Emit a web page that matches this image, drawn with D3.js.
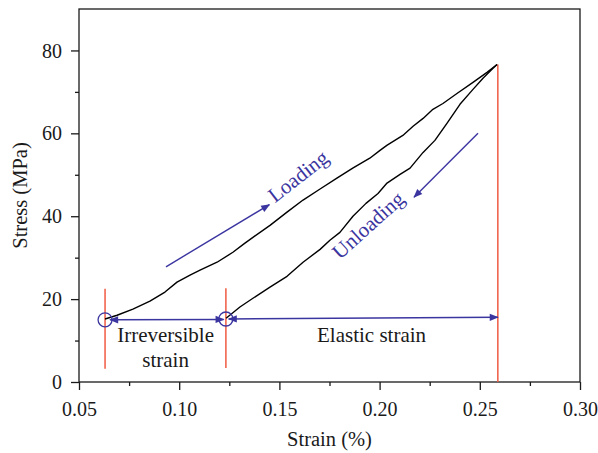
<!DOCTYPE html>
<html>
<head>
<meta charset="utf-8">
<script src="https://cdn.jsdelivr.net/npm/d3@7"></script>
<style>
  body { margin: 0; background: #fff; }
  svg { display: block; }
  text { font-family: "Liberation Serif", "Times New Roman", serif; }
</style>
</head>
<body>
<svg id="chart" width="598" height="453"></svg>
<script>
// Axis ticks
const strainTicks = [0.05, 0.10, 0.15, 0.20, 0.25, 0.30];
const strainMinorTicks = [0.075, 0.125, 0.175, 0.225, 0.275];
const stressTicks = [0, 20, 40, 60, 80];
const stressMinorTicks = [10, 30, 50, 70];

// Loading branch (strain %, stress MPa)
const loadingStrain = [0.0630, 0.0690, 0.0769, 0.0854, 0.0929, 0.0989, 0.1054, 0.1104, 0.1189, 0.1268,
  0.1328, 0.1368, 0.1453, 0.1538, 0.1618, 0.1701, 0.1787, 0.1866, 0.1951, 0.2002,
  0.2036, 0.2116, 0.2167, 0.2217, 0.2266, 0.2316, 0.2386, 0.2466, 0.2536, 0.2586];
const loadingStress = [15.2, 16.1, 17.6, 19.5, 21.7, 24.1, 25.8, 27.0, 28.9, 31.3,
  33.5, 34.9, 37.8, 41.0, 43.9, 46.5, 49.2, 51.6, 54.0, 55.9,
  57.1, 59.5, 61.7, 63.6, 65.8, 67.2, 69.6, 72.3, 74.7, 76.6];

// Unloading branch (strain %, stress MPa)
const unloadingStrain = [0.2586, 0.2566, 0.2516, 0.2466, 0.2401, 0.2336, 0.2276, 0.2217, 0.2152, 0.2102,
  0.2037, 0.1992, 0.1932, 0.1867, 0.1802, 0.1752, 0.1703, 0.1618, 0.1538, 0.1453,
  0.1368, 0.1303, 0.1234];
const unloadingStress = [76.6, 75.7, 73.3, 70.6, 67.0, 62.4, 58.3, 55.4, 51.6, 50.1,
  48.0, 45.5, 43.1, 40.0, 36.1, 34.2, 32.0, 28.9, 25.5, 22.9,
  20.2, 18.1, 15.4];

// Reference strains: start of loading, end of unloading, peak
const startStrain = 0.063, residualStrain = 0.1233, peakStrain = 0.259;
const startStress = 15.0, residualStress = 15.2, peakStress = 76.6;

const W = 598, H = 453;
const plot = { left: 79, right: 580, top: 9, bottom: 382 };
const blue = "#3b35a0", red = "#f05a42", ink = "#1a1a1a";

const svg = d3.select("#chart");
const x = d3.scaleLinear().domain([0.05, 0.30]).range([plot.left, plot.right]);
const y = d3.scaleLinear().domain([0, 90]).range([plot.bottom, plot.top]);

// Arrowhead marker
const defs = svg.append("defs");
defs.append("marker")
  .attr("id", "head")
  .attr("viewBox", "0 0 10 10")
  .attr("refX", 9).attr("refY", 5)
  .attr("markerUnits", "userSpaceOnUse")
  .attr("markerWidth", 11).attr("markerHeight", 9)
  .attr("orient", "auto-start-reverse")
  .append("path").attr("d", "M0,1 L10,5 L0,9 Z").attr("fill", blue);

// Frame
svg.append("rect")
  .attr("x", plot.left).attr("y", plot.top)
  .attr("width", plot.right - plot.left).attr("height", plot.bottom - plot.top)
  .attr("fill", "none").attr("stroke", ink).attr("stroke-width", 1.3);

// X axis
const xAxis = svg.append("g").attr("transform", `translate(0,${plot.bottom})`)
  .call(d3.axisBottom(x).tickValues(strainTicks).tickFormat(d3.format(".2f")).tickSize(8).tickSizeOuter(0));
xAxis.append("g").call(d3.axisBottom(x).tickValues(strainMinorTicks).tickFormat("").tickSize(4).tickSizeOuter(0));
xAxis.selectAll(".domain").remove();
xAxis.selectAll("line").attr("stroke", ink).attr("stroke-width", 1.3);
xAxis.selectAll("text").attr("y", 34).attr("dy", 0)
  .attr("font-size", 20).attr("fill", ink).style("font-family", '"Liberation Serif", serif');

// Y axis
const yAxis = svg.append("g").attr("transform", `translate(${plot.left},0)`)
  .call(d3.axisLeft(y).tickValues(stressTicks).tickSize(8).tickSizeOuter(0));
yAxis.append("g").call(d3.axisLeft(y).tickValues(stressMinorTicks).tickFormat("").tickSize(4).tickSizeOuter(0));
yAxis.selectAll(".domain").remove();
yAxis.selectAll("line").attr("stroke", ink).attr("stroke-width", 1.3);
yAxis.selectAll("text").attr("x", -17).attr("dy", "0.33em")
  .attr("font-size", 20).attr("fill", ink).style("font-family", '"Liberation Serif", serif');

// Axis titles
svg.append("text").attr("x", (plot.left + plot.right) / 2).attr("y", 446)
  .attr("text-anchor", "middle").attr("font-size", 20.5).attr("fill", ink).text("Strain (%)");
svg.append("text").attr("transform", `translate(27,${(plot.top + plot.bottom) / 2}) rotate(-90)`)
  .attr("text-anchor", "middle").attr("font-size", 20.5).attr("fill", ink).text("Stress (MPa)");

// Red reference lines
const redLines = [
  { s: startStrain, y0: 3.2, y1: 22.5 },
  { s: residualStrain, y0: 3.4, y1: 22.6 },
  { s: peakStrain, y0: 0, y1: peakStress }
];
svg.selectAll(".ref").data(redLines).enter().append("line")
  .attr("x1", d => x(d.s)).attr("x2", d => x(d.s))
  .attr("y1", d => y(d.y0)).attr("y2", d => y(d.y1))
  .attr("stroke", red).attr("stroke-width", 1.5);

// Stress-strain loop
const line = d3.line().x(d => x(d[0])).y(d => y(d[1]));
const loading = loadingStrain.map((s, i) => [s, loadingStress[i]]);
const unloading = unloadingStrain.map((s, i) => [s, unloadingStress[i]]);
svg.append("path").datum(loading).attr("d", line)
  .attr("fill", "none").attr("stroke", "#000").attr("stroke-width", 1.4).attr("stroke-linejoin", "round");
svg.append("path").datum(unloading).attr("d", line)
  .attr("fill", "none").attr("stroke", "#000").attr("stroke-width", 1.4).attr("stroke-linejoin", "round");

// Strain arrows
const strainArrows = [
  { s0: 0.0655, v0: 15.0, s1: 0.1222, v1: 15.1 },
  { s0: 0.1247, v0: 15.2, s1: peakStrain, v1: 15.6 }
];
svg.selectAll(".strain-arrow").data(strainArrows).enter().append("line")
  .attr("x1", d => x(d.s0)).attr("y1", d => y(d.v0))
  .attr("x2", d => x(d.s1)).attr("y2", d => y(d.v1))
  .attr("stroke", blue).attr("stroke-width", 1.5)
  .attr("marker-start", "url(#head)").attr("marker-end", "url(#head)");

// Circles marking the loop ends
svg.selectAll(".end").data([[startStrain, startStress], [residualStrain, residualStress]]).enter()
  .append("circle").attr("cx", d => x(d[0])).attr("cy", d => y(d[1])).attr("r", 7)
  .attr("fill", "none").attr("stroke", blue).attr("stroke-width", 1.3);

// Direction arrows
const dirArrows = [
  { s0: 0.0934, v0: 27.8, s1: 0.1450, v1: 42.8 },
  { s0: 0.2491, v0: 60.0, s1: 0.2172, v1: 44.6 }
];
svg.selectAll(".dir").data(dirArrows).enter().append("line")
  .attr("x1", d => x(d.s0)).attr("y1", d => y(d.v0))
  .attr("x2", d => x(d.s1)).attr("y2", d => y(d.v1))
  .attr("stroke", blue).attr("stroke-width", 1.4)
  .attr("marker-end", "url(#head)");

// Labels
svg.append("text").attr("transform", `translate(${x(0.1478)},${y(43.1)}) rotate(-38)`)
  .attr("font-size", 21).attr("fill", blue).text("Loading");
svg.append("text").attr("transform", `translate(${x(0.1802)},${y(29.4)}) rotate(-42)`)
  .attr("font-size", 21).attr("fill", blue).text("Unloading");

svg.append("text").attr("x", x(0.0932)).attr("y", 342).attr("text-anchor", "middle")
  .attr("font-size", 21).attr("fill", ink).text("Irreversible");
svg.append("text").attr("x", x(0.0932)).attr("y", 367).attr("text-anchor", "middle")
  .attr("font-size", 21).attr("fill", ink).text("strain");
svg.append("text").attr("x", x(0.196)).attr("y", 342).attr("text-anchor", "middle")
  .attr("font-size", 21).attr("fill", ink).text("Elastic strain");
</script>
</body>
</html>
